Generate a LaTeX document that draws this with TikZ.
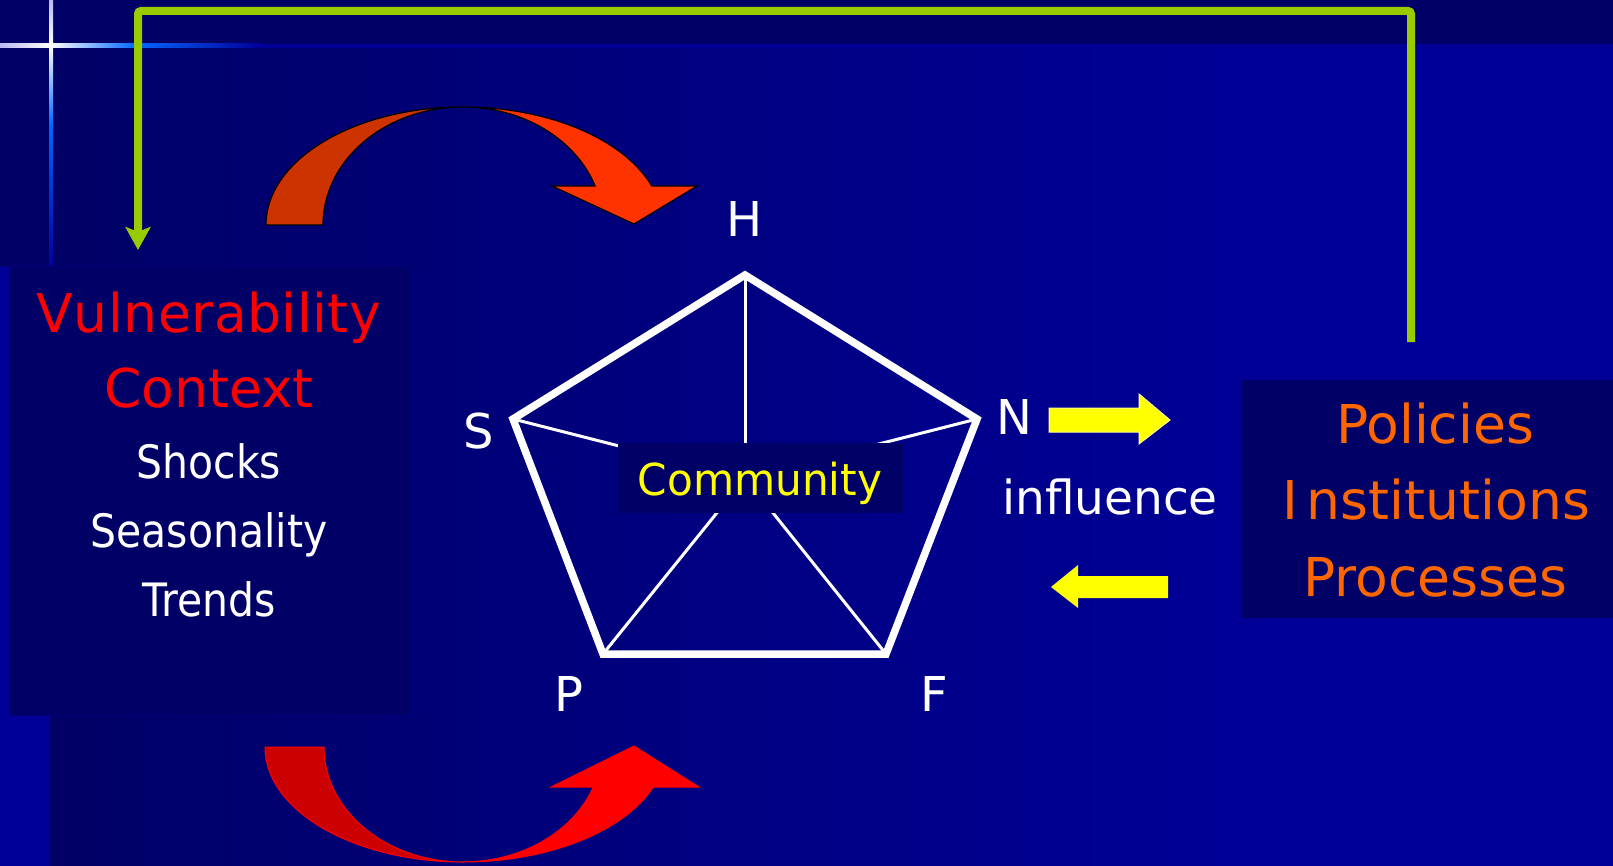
\documentclass[tikz,border=0pt]{standalone}
\usepackage{fontspec}
\setmainfont{DejaVu Sans}
\newfontfamily\condfont[FakeStretch=0.89]{DejaVu Sans}
\newfontfamily\commfont[FakeStretch=0.96]{DejaVu Sans}
\usetikzlibrary{arrows.meta}
\definecolor{navyA}{HTML}{000066}
\definecolor{navyB}{HTML}{000099}
\definecolor{boxedge}{HTML}{00007A}
\definecolor{crossblue}{HTML}{0066FF}
\definecolor{crosspale}{HTML}{B8B8F0}
\definecolor{greenline}{HTML}{99CC00}
\definecolor{vred}{HTML}{FF0000}
\definecolor{porange}{HTML}{FF6600}
\definecolor{arrdarkA}{HTML}{CC3300}
\definecolor{arrlightA}{HTML}{FF3300}
\definecolor{arrdarkB}{HTML}{CC0000}
\definecolor{arrlightB}{HTML}{FF0000}
\definecolor{yel}{HTML}{FFFF00}
\begin{document}
\begin{tikzpicture}[x=1pt,y=-1pt,
  boxbg/.style={fill=navyA,inner sep=0pt,outer sep=0pt},
  txt/.style={inner sep=0pt,outer sep=0pt,anchor=base},
  vtitle/.style={txt,text=vred,font={\fontsize{53.5}{60}\selectfont}},
  vitem/.style={txt,text=white,font={\condfont\fontsize{46}{52}\selectfont}},
  ptext/.style={txt,text=porange,font={\fontsize{53.5}{60}\selectfont}},
  wlabel/.style={txt,text=white,font={\fontsize{47}{54}\selectfont}},
  vlabel/.style={txt,text=white,font={\fontsize{48}{54}\selectfont}},
  commtext/.style={txt,text=yel,font={\commfont\fontsize{44}{50}\selectfont}},
  spoke/.style={draw=white,line width=3pt},
  pent/.style={draw=white,line width=7.5pt,line join=miter},
  greenconn/.style={draw=greenline,line width=8pt,rounded corners=3pt,
    -{Stealth[length=23pt,width=25pt,inset=5pt]}},
  yarrow/.style={fill=yel},
]
\useasboundingbox (0,0) rectangle (1613,866);
% background
\fill[navyA] (0,0) rectangle (1613,866);
\shade[left color=navyA,right color=navyB] (50,46) rectangle (1300,866);
\fill[navyB] (1300,46) rectangle (1613,866);
\fill[navyB] (0,267) rectangle (50,866);
% decorative cross
\shade[left color=crosspale,right color=white] (0,44) rectangle (51,48);
\shade[left color=white,right color=crossblue] (51,44) rectangle (135,48);
\shade[left color=crossblue,right color=navyB] (135,44) rectangle (260,48);
\fill[navyB] (260,44) rectangle (1613,48);
\shade[top color=crosspale,bottom color=white] (49,0) rectangle (53,46);
\shade[top color=white,bottom color=crossblue] (49,46) rectangle (53,125);
\shade[top color=crossblue,bottom color=navyB] (49,125) rectangle (53,267);

% boxes
\node[boxbg,draw=boxedge,line width=1pt,minimum width=400pt,minimum height=448pt] (vbox) at (209,491) {};
\node[boxbg,minimum width=380pt,minimum height=238pt] (pbox) at (1432,499) {};

% green feedback connector
\coordinate (gStart) at (1411,342);
\coordinate (gTR) at (1411,11);
\coordinate (gTL) at (138,11);
\coordinate (gEnd) at (138,250);
\draw[greenconn] (gStart) -- (gTR) -- (gTL) -- (gEnd);

% top curved arrow
\filldraw[fill=arrdarkA,draw=black,line width=1.2pt]
  (266,225) arc[start angle=180,end angle=270,x radius=197,y radius=118]
  arc[start angle=270,end angle=180,x radius=140,y radius=118] -- cycle;
\filldraw[fill=arrlightA,draw=black,line width=1.2pt,line join=miter]
  (463,107) arc[start angle=270,end angle=340.7,x radius=200,y radius=118]
  -- (697,186) -- (634,224) -- (552,186) -- (595.1,186)
  arc[start angle=340.7,end angle=270,x radius=140,y radius=118] -- cycle;

% bottom curved arrow
\filldraw[fill=arrdarkB,draw=arrlightB,line width=1pt]
  (265,747) arc[start angle=180,end angle=90,x radius=198,y radius=115]
  arc[start angle=90,end angle=180,x radius=139,y radius=115] -- cycle;
\filldraw[fill=arrlightB,draw=arrlightB,line width=1pt,line join=miter]
  (463,862) arc[start angle=90,end angle=20.4,x radius=203,y radius=115]
  -- (699,787) -- (634,746) -- (551,787) -- (593.3,787)
  arc[start angle=20.4,end angle=90,x radius=139,y radius=115] -- cycle;

% pentagon
\coordinate (pH) at (745,275);
\coordinate (pS) at (513,419);
\coordinate (pN) at (977,419);
\coordinate (pP) at (603,654);
\coordinate (pF) at (886,654);
\coordinate (pC) at (745,478);
\draw[spoke] (pC) -- (pH);
\draw[spoke] (pC) -- (pS);
\draw[spoke] (pC) -- (pN);
\draw[spoke] (pC) -- (pP);
\draw[spoke] (pC) -- (pF);
\draw[pent] (pH) -- (pN) -- (pF) -- (pP) -- (pS) -- cycle;
\node[boxbg,minimum width=285pt,minimum height=70pt] (cbox) at (760.5,478) {};
\node[commtext] (tCom) at (760,495) {Community};

% pentagon labels
\node[vlabel] (lH) at (745,237) {H};
\node[vlabel] (lS) at (479,448) {S};
\node[vlabel] (lN) at (1014,434) {N};
\node[vlabel] (lP) at (569,711) {P};
\node[vlabel] (lF) at (934,711) {F};

% vulnerability texts
\node[vtitle] (tVul) at (209,332) {V\kern0.5pt u\kern0.5pt l\kern0.5pt n\kern0.5pt e\kern0.5pt r\kern0.5pt a\kern0.5pt b\kern0.5pt i\kern0.5pt l\kern0.5pt i\kern0.5pt t\kern0.5pt y};
\node[vtitle] (tCon) at (209,407) {Context};
\node[vitem] (tSho) at (209,478) {Shocks};
\node[vitem] (tSea) at (209,547) {Seasonality};
\node[vitem] (tTre) at (209,616) {Trends};

% policies texts
\node[ptext] (tPol) at (1435,443) {Policies};
\node[ptext] (tIns) at (1436,519) {I\kern9pt nstitutions};
\node[ptext] (tPro) at (1435,596) {Processes};

% influence and yellow arrows
\node[wlabel] (tInf) at (1110,514) {influence};
\filldraw[yarrow,draw=white!60!yel,line width=1pt]
  (1049,408) -- (1139,408) -- (1139,394) -- (1170,420) -- (1139,444)
  -- (1139,432) -- (1049,432) -- cycle;
\fill[yarrow]
  (1168,576) -- (1078,576) -- (1078,565) -- (1051,587) -- (1078,608)
  -- (1078,598) -- (1168,598) -- cycle;
\end{tikzpicture}
\end{document}
